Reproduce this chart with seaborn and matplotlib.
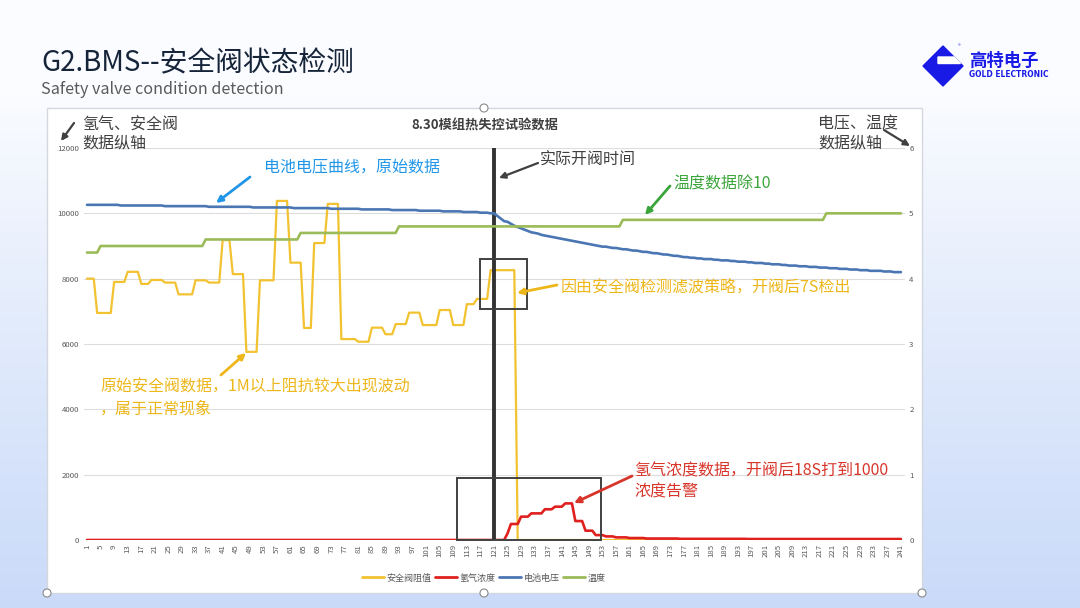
import numpy as np
import matplotlib
matplotlib.use("Agg")
import matplotlib.pyplot as plt
import seaborn as sns
from matplotlib.patches import Rectangle, Polygon, Circle
from matplotlib.lines import Line2D

# ---- données (index 1..241) ----
idx = np.arange(1, 242)

# 安全阀阻值 (axe gauche) : niveaux + nombre de points par niveau
valve_levels = [8000, 6950, 7900, 8210, 7840, 7960, 7880, 7520, 7950, 7880,
                9180, 8140, 5760, 7950, 10380, 8490, 6490, 9090, 10290, 6150,
                6070, 6500, 6300, 6610, 6960, 6580, 7040, 6580, 7220, 7380,
                8260, 0]
valve_runs = [3, 5, 4, 4, 3, 4, 4, 5, 4, 4,
              3, 4, 4, 5, 4, 4, 3, 4, 4, 5,
              4, 4, 3, 4, 4, 5, 4, 4, 3, 4,
              8, 114]

# 氢气浓度 (axe gauche)
h2_levels = [0, 200, 490, 715, 815, 940, 1020, 1120, 580, 285, 150, 110, 80, 60, 45, 35, 30]
h2_runs = [124, 1, 3, 3, 4, 3, 3, 3, 3, 3, 3, 3, 4, 5, 10, 20, 46]

# 电池电压 (axe droit) : avant ouverture (1..121) puis valeurs après (122..241)
volt_levels_pre = [5.13, 5.12, 5.11, 5.10, 5.09, 5.08, 5.07, 5.06, 5.05, 5.04, 5.03, 5.02, 5.01, 5.00]
volt_runs_pre = [10, 13, 13, 13, 12, 11, 9, 9, 8, 7, 6, 5, 3, 2]
volt_after = [4.96, 4.92, 4.88, 4.87, 4.84, 4.81, 4.79, 4.77, 4.75, 4.73, 4.71, 4.70, 4.69, 4.67,
              4.66, 4.65, 4.64, 4.63, 4.62, 4.61, 4.60, 4.59, 4.58, 4.57, 4.56, 4.55, 4.54, 4.53,
              4.52, 4.51, 4.50,
              4.49, 4.49, 4.48, 4.47, 4.47, 4.46, 4.45, 4.45, 4.44, 4.43, 4.43, 4.42, 4.41, 4.41,
              4.40, 4.39, 4.39, 4.38, 4.37, 4.37, 4.36, 4.35, 4.35, 4.34, 4.33, 4.33, 4.32, 4.32, 4.31,
              4.31, 4.30, 4.30, 4.30, 4.29, 4.29, 4.28, 4.28, 4.28, 4.27, 4.27, 4.26, 4.26, 4.26, 4.25,
              4.25, 4.24, 4.24, 4.24, 4.23, 4.23, 4.22, 4.22, 4.22, 4.21, 4.21, 4.20, 4.20, 4.20, 4.19,
              4.19, 4.19, 4.18, 4.18, 4.18, 4.17, 4.17, 4.17, 4.16, 4.16, 4.16, 4.15, 4.15, 4.15, 4.14,
              4.14, 4.14, 4.13, 4.13, 4.13, 4.12, 4.12, 4.12, 4.12, 4.11, 4.11, 4.11, 4.10, 4.10, 4.10]

# 温度/10 (axe droit)
temp_levels = [4.4, 4.5, 4.6, 4.7, 4.8, 4.9, 5.0]
temp_runs = [4, 31, 28, 29, 66, 60, 23]

valve_open_idx = 121
x_ticks = list(range(1, 242, 4))
legend_labels = ["安全阀阻值", "氢气浓度", "电池电压", "温度"]

valve = np.repeat(valve_levels, valve_runs)
h2 = np.repeat(h2_levels, h2_runs)
volt = np.concatenate([np.repeat(volt_levels_pre, volt_runs_pre), volt_after])
temp = np.repeat(temp_levels, temp_runs)

# couleurs
c_yellow = "#F2C230"
c_red = "#E0201E"
c_blue = "#4A77B4"
c_green = "#9BBB59"
c_grey = "#595959"
c_logo = "#1A1AE6"

sns.set_theme(style="white")
plt.rcParams["font.family"] = ["Noto Sans CJK SC", "DejaVu Sans"]

W, H = 1080, 608
fig = plt.figure(figsize=(W / 100, H / 100), dpi=100)

# fond dégradé de la diapo
bg = fig.add_axes([0, 0, 1, 1], zorder=0)
bg.set_xlim(0, W)
bg.set_ylim(H, 0)
bg.axis("off")
yy = np.linspace(0, H, 300)
t = np.clip((yy - 90) / (H - 90), 0, 1) ** 0.9
top = np.array([0.985, 0.99, 1.0])
bot = np.array([0.79, 0.855, 0.975])
grad = (top[None, :] * (1 - t[:, None]) + bot[None, :] * t[:, None])[:, None, :]
bg.imshow(grad, extent=[0, W, H, 0], aspect="auto")
bg.add_patch(Rectangle((47, 108), 875, 485, facecolor="white", edgecolor="#D4D8DE", lw=1))
for cx, cy in [(484, 108), (484, 593), (47, 593), (922, 593)]:
    bg.add_patch(Circle((cx, cy), 4, facecolor="white", edgecolor="#8A8A8A", lw=0.8))

# axe principal
ax = fig.add_axes([83.6 / W, (H - 540) / H, 821.4 / W, 392 / H], zorder=1)
ax.patch.set_alpha(0)
sns.lineplot(x=idx, y=valve, ax=ax, color=c_yellow, lw=1.6)
sns.lineplot(x=idx, y=h2, ax=ax, color=c_red, lw=1.9)
ax.set_xlim(0, 242.2)
ax.set_ylim(0, 12000)
ax.set_yticks(range(0, 12001, 2000))
ax.set_xticks(x_ticks)
ax.set_xticklabels([str(v) for v in x_ticks], rotation=90)
ax.yaxis.grid(True, color="#DDDDDD", lw=0.8)
ax.xaxis.grid(False)
ax.tick_params(axis="x", length=0, pad=3, labelsize=5.6, labelcolor=c_grey)
ax.tick_params(axis="y", length=0, pad=3, labelsize=5.6, labelcolor=c_grey)
ax.set_xlabel("")
ax.set_ylabel("")
for s in ax.spines.values():
    s.set_visible(False)

# ouverture de la vanne + cadres
ax.axvline(valve_open_idx, color="#333333", lw=2.8, zorder=5)
ax.add_patch(Rectangle((117.0, 7070), 13.8, 1530, fill=False, edgecolor="#404040", lw=1.4, zorder=6))
ax.add_patch(Rectangle((110.1, 0), 42.5, 1900, fill=False, edgecolor="#404040", lw=1.4, zorder=6, clip_on=False))

# axe droit
ax2 = ax.twinx()
ax2.set_zorder(2)
sns.lineplot(x=idx, y=volt, ax=ax2, color=c_blue, lw=1.9)
sns.lineplot(x=idx, y=temp, ax=ax2, color=c_green, lw=1.9)
ax2.set_ylim(0, 6)
ax2.set_yticks(range(0, 7))
ax2.tick_params(axis="y", length=0, pad=3, labelsize=5.6, labelcolor=c_grey)
ax2.set_ylabel("")
ax2.grid(False)
for s in ax2.spines.values():
    s.set_visible(False)

handles = [Line2D([], [], color=c, lw=2) for c in [c_yellow, c_red, c_blue, c_green]]
ax.legend(handles, legend_labels, loc="center", bbox_to_anchor=(484 / W, 1 - 578 / H),
          bbox_transform=fig.transFigure, ncol=4, frameon=False, fontsize=6.5,
          handlelength=2.4, handletextpad=0.3, columnspacing=0.4, labelcolor=c_grey)

# calque texte / flèches en pixels
ov = fig.add_axes([0, 0, 1, 1], zorder=3)
ov.set_xlim(0, W)
ov.set_ylim(H, 0)
ov.axis("off")
ov.patch.set_alpha(0)


def arrow(x0, y0, x1, y1, color, lw=1.6):
    ov.annotate("", xy=(x1, y1), xytext=(x0, y0),
                arrowprops=dict(arrowstyle="-|>", color=color, lw=lw, mutation_scale=9,
                                shrinkA=0, shrinkB=0))


def label(x, y, s, color, size=11.5, **kw):
    ov.text(x, y, s, color=color, fontsize=size, ha="left", va="center", **kw)


# titre de la diapo
ov.text(41, 63, "G2.BMS--安全阀状态检测", color="#16243A", fontsize=20, ha="left", va="center")
ov.text(41, 90, "Safety valve condition detection", color="#5A5A5A", fontsize=11.6, ha="left", va="center")

# logo
ov.add_patch(Polygon([(943, 46), (923, 66), (943, 86), (963, 66)], closed=True, color=c_logo))
ov.add_patch(Polygon([(938, 57), (954, 57), (960.5, 63.5), (938, 63.5)], closed=True, color="white"))
ov.text(959, 47, "®", color=c_logo, fontsize=4, ha="center", va="center")
ov.text(969, 61, "高特电子", color=c_logo, fontsize=12.5, fontweight="bold", ha="left", va="center")
ov.text(969, 74.5, "GOLD ELECTRONIC", color=c_logo, fontsize=6, fontweight="bold", ha="left",
        va="center", family="DejaVu Sans", fontstretch="condensed")

# titre du graphique
ov.text(485, 126, "8.30模组热失控试验数据", color="#404040", fontsize=9.5, fontweight="bold",
        ha="center", va="center")

dark = "#404040"
label(82, 125, "氢气、安全阀", dark)
label(82, 143, "数据纵轴", dark)
arrow(74, 123, 61, 141, dark)

label(818, 124, "电压、温度", dark)
label(818, 143, "数据纵轴", dark)
arrow(884, 130, 910, 146, dark)

label(264, 168, "电池电压曲线，原始数据", "#2196E8")
arrow(250, 177, 216, 203, "#2196E8", lw=2)

label(540, 160, "实际开阀时间", dark)
arrow(538, 163, 499, 178, dark)

label(673, 184, "温度数据除10", "#3AA53A")
arrow(670, 186, 645, 215, "#3AA53A", lw=2)

label(561, 287, "因由安全阀检测滤波策略，开阀后7S检出", "#EDB71A")
arrow(557, 285, 517, 293, "#EDB71A", lw=2)

label(100, 387, "原始安全阀数据，1M以上阻抗较大出现波动", "#EDB71A")
label(100, 409, "，属于正常现象", "#EDB71A")
arrow(221, 375, 246, 353, "#EDB71A", lw=2)

label(634, 471, "氢气浓度数据，开阀后18S打到1000", "#D8352A")
label(634, 492, "浓度告警", "#D8352A")
arrow(632, 476, 574, 503, "#D8352A", lw=2)

fig.savefig("out.png", dpi=100)
